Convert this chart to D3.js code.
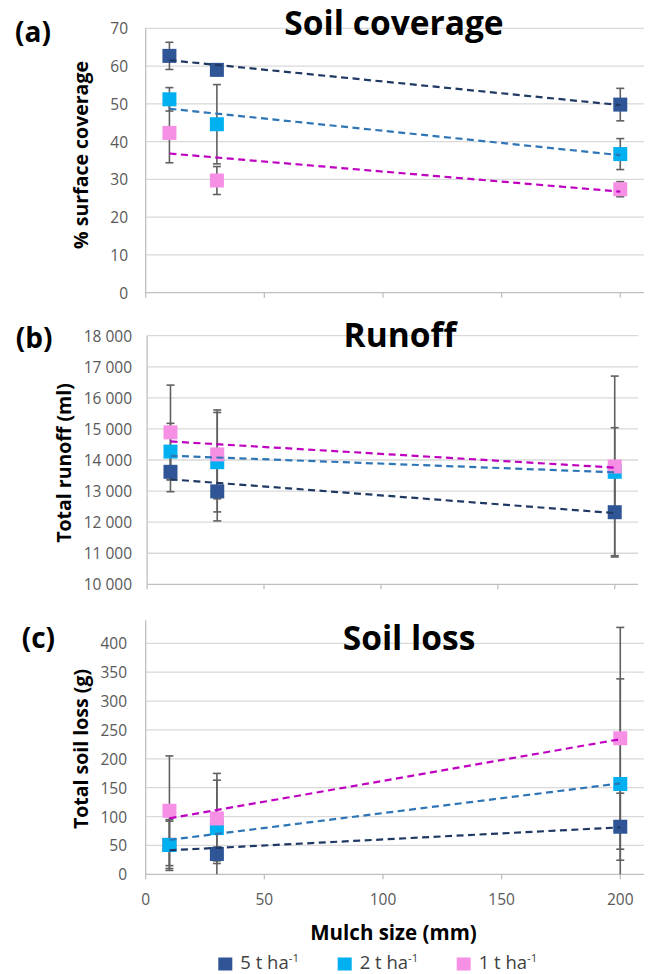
<!DOCTYPE html>
<html><head><meta charset="utf-8">
<script src="https://cdn.jsdelivr.net/npm/d3@7"></script>
<style>
body{margin:0;background:#fff;}
svg{display:block;}
text{font-family:"Open Sans",Lato,sans-serif;}
</style>
</head><body>
<svg id="chart" width="651" height="974"></svg>
<script>
// ---------- data ----------
const mulchSizes = [10, 30, 200];
const seriesNames = ["5 t ha", "2 t ha", "1 t ha"];
const xTicks = [0, 50, 100, 150, 200];

const coverage5 = [62.7, 59.0, 49.8];
const coverage5Err = [3.6, 1.5, 4.3];
const coverage2 = [51.2, 44.6, 36.7];
const coverage2Err = [3.1, 10.5, 4.1];
const coverage1 = [42.3, 29.7, 27.4];
const coverage1Err = [7.9, 3.7, 2.0];
const coverageTicks = [0, 10, 20, 30, 40, 50, 60, 70];

const runoff5 = [13620, 12990, 12320];
const runoff5Err = [640, 950, 1400];
const runoff2 = [14270, 13930, 13620];
const runoff2Err = [910, 1600, 1420];
const runoff1 = [14890, 14180, 13790];
const runoff1Err = [1520, 1430, 2910];
const runoffTicks = [10000, 11000, 12000, 13000, 14000, 15000, 16000, 17000, 18000];
const runoffTickLabels = ["10 000","11 000","12 000","13 000","14 000","15 000","16 000","17 000","18 000"];

const soilLoss5 = [51, 35.2, 82.4];
const soilLoss5Err = [41, 12, 58];
const soilLoss2 = [50.7, 80, 156.4];
const soilLoss2Err = [44, 83, 182];
const soilLoss1 = [110, 96.7, 235.5];
const soilLoss1Err = [95, 78, 192];
const soilLossTicks = [0, 50, 100, 150, 200, 250, 300, 350, 400];

// ---------- styles ----------
const markerColors = ["#2F5597", "#00B0F0", "#F590E4"];
const trendColors = ["#1F3864", "#2E75B6", "#C000C0"];
const gridColor = "#D9D9D9";
const axisColor = "#BFBFBF";
const tickTextColor = "#595959";
const errColor = "#606060";

const svg = d3.select("#chart");

function linReg(xs, ys) {
  const mx = d3.mean(xs), my = d3.mean(ys);
  let sxy = 0, sxx = 0;
  xs.forEach((x, i) => { sxy += (x - mx) * (ys[i] - my); sxx += (x - mx) * (x - mx); });
  const b = sxy / sxx;
  return x => my + b * (x - mx);
}

function drawPanel(p) {
  const x = d3.scaleLinear().domain([0, 210]).range(p.xRange);
  const y = d3.scaleLinear().domain(p.yDomain).range(p.yRange);
  const g = svg.append("g");

  // gridlines
  g.selectAll(".grid").data(p.yTicks).enter().append("line")
    .attr("x1", x(0)).attr("x2", x(210))
    .attr("y1", d => y(d)).attr("y2", d => y(d))
    .attr("stroke", d => d === p.yDomain[0] ? axisColor : gridColor)
    .attr("stroke-width", 1.3);

  // y axis line
  g.append("line").attr("x1", x(0)).attr("x2", x(0))
    .attr("y1", y(p.yDomain[1])).attr("y2", y(p.yDomain[0]) + 5)
    .attr("stroke", axisColor).attr("stroke-width", 1.3);

  // x ticks
  g.selectAll(".xt").data(xTicks.slice(1)).enter().append("line")
    .attr("x1", d => x(d)).attr("x2", d => x(d))
    .attr("y1", y(p.yDomain[0])).attr("y2", y(p.yDomain[0]) + 5)
    .attr("stroke", axisColor).attr("stroke-width", 1.3);

  // y tick labels
  g.selectAll(".yl").data(p.yTicks).enter().append("text")
    .attr("x", p.yLabelX).attr("y", d => y(d))
    .attr("text-anchor", "end").attr("dominant-baseline", "central")
    .attr("font-size", 15.5).attr("fill", tickTextColor)
    .text((d, i) => p.yTickLabels ? p.yTickLabels[i] : d);

  // x tick labels
  if (p.showXLabels) {
    g.selectAll(".xl").data(xTicks).enter().append("text")
      .attr("x", d => x(d)).attr("y", p.xLabelY)
      .attr("text-anchor", "middle").attr("dominant-baseline", "central")
      .attr("font-size", 15.5).attr("fill", tickTextColor)
      .text(d => d);
  }

  const lo = p.yDomain[0], hi = p.yDomain[1];
  // error bars
  p.series.forEach((s, si) => {
    s.values.forEach((v, i) => {
      const cx = x(mulchSizes[i]);
      const top = Math.min(hi, v + s.err[i]), bot = Math.max(lo, v - s.err[i]);
      g.append("line").attr("x1", cx).attr("x2", cx).attr("y1", y(top)).attr("y2", y(bot))
        .attr("stroke", errColor).attr("stroke-width", 1.6);
      if (v + s.err[i] <= hi)
        g.append("line").attr("x1", cx - 4).attr("x2", cx + 4).attr("y1", y(top)).attr("y2", y(top))
          .attr("stroke", errColor).attr("stroke-width", 1.6);
      if (v - s.err[i] >= lo)
        g.append("line").attr("x1", cx - 4).attr("x2", cx + 4).attr("y1", y(bot)).attr("y2", y(bot))
          .attr("stroke", errColor).attr("stroke-width", 1.6);
    });
  });

  // markers
  p.series.forEach((s, si) => {
    g.selectAll(".m" + si).data(s.values).enter().append("rect")
      .attr("x", (d, i) => x(mulchSizes[i]) - 7).attr("y", d => y(d) - 7)
      .attr("width", 14).attr("height", 14)
      .attr("fill", markerColors[si]);
  });

  // trendlines
  p.series.forEach((s, si) => {
    const f = linReg(mulchSizes, s.values);
    const x0 = d3.min(mulchSizes), x1 = d3.max(mulchSizes);
    g.append("line").attr("x1", x(x0)).attr("y1", y(f(x0)))
      .attr("x2", x(x1)).attr("y2", y(f(x1)))
      .attr("stroke", trendColors[si]).attr("stroke-width", 2.2)
      .attr("stroke-dasharray", "7,4.5");
  });

  // title
  g.append("text").attr("x", p.titleX).attr("y", p.titleY)
    .attr("text-anchor", "middle").attr("font-weight", 700).attr("font-size", 33.5)
    .attr("fill", "#000").text(p.title);
  // panel letter
  g.append("text").attr("x", p.letterX).attr("y", p.letterY)
    .attr("font-weight", 700).attr("font-size", 28).attr("fill", "#000").text(p.letter);
  // y axis title
  g.append("text").attr("transform", `translate(${p.yTitleX},${p.yTitleY}) rotate(-90)`)
    .attr("text-anchor", "middle").attr("dominant-baseline", "central")
    .attr("font-weight", 700).attr("font-size", 19.5).attr("fill", "#000").text(p.yTitle);
}

drawPanel({
  xRange: [145.7, 644], yDomain: [0, 70], yRange: [292.7, 28.3],
  yTicks: coverageTicks, yLabelX: 128,
  series: [
    {values: coverage5, err: coverage5Err},
    {values: coverage2, err: coverage2Err},
    {values: coverage1, err: coverage1Err}],
  title: "Soil coverage", titleX: 394, titleY: 35,
  letter: "(a)", letterX: 15, letterY: 42,
  yTitle: "% surface coverage", yTitleX: 80, yTitleY: 155
});

drawPanel({
  xRange: [147.1, 638.1], yDomain: [10000, 18000], yRange: [584.3, 335.7],
  yTicks: runoffTicks, yTickLabels: runoffTickLabels, yLabelX: 132,
  series: [
    {values: runoff5, err: runoff5Err},
    {values: runoff2, err: runoff2Err},
    {values: runoff1, err: runoff1Err}],
  title: "Runoff", titleX: 400, titleY: 346.7,
  letter: "(b)", letterX: 15.7, letterY: 348,
  yTitle: "Total runoff (ml)", yTitleX: 63, yTitleY: 463
});

drawPanel({
  xRange: [145.7, 644], yDomain: [0, 440], yRange: [874.3, 620.2],
  yTicks: soilLossTicks, yLabelX: 127,
  showXLabels: true, xLabelY: 899,
  series: [
    {values: soilLoss5, err: soilLoss5Err},
    {values: soilLoss2, err: soilLoss2Err},
    {values: soilLoss1, err: soilLoss1Err}],
  title: "Soil loss", titleX: 409, titleY: 650,
  letter: "(c)", letterX: 21.7, letterY: 648,
  yTitle: "Total soil loss (g)", yTitleX: 80, yTitleY: 749
});

// x axis title
svg.append("text").attr("x", 393.5).attr("y", 940)
  .attr("text-anchor", "middle").attr("font-weight", 700).attr("font-size", 20.5)
  .text("Mulch size (mm)");

// legend
const legendX = [218.3, 337.7, 456.7];
seriesNames.forEach((name, i) => {
  svg.append("rect").attr("x", legendX[i]).attr("y", 957.5).attr("width", 14).attr("height", 13)
    .attr("fill", markerColors[i]);
  const t = svg.append("text").attr("x", legendX[i] + 22).attr("y", 968.5)
    .attr("font-size", 18.5).attr("fill", "#404040");
  t.append("tspan").text(name);
  t.append("tspan").attr("font-size", 11.5).attr("dy", -7).text("-1");
});
</script>
</body></html>
